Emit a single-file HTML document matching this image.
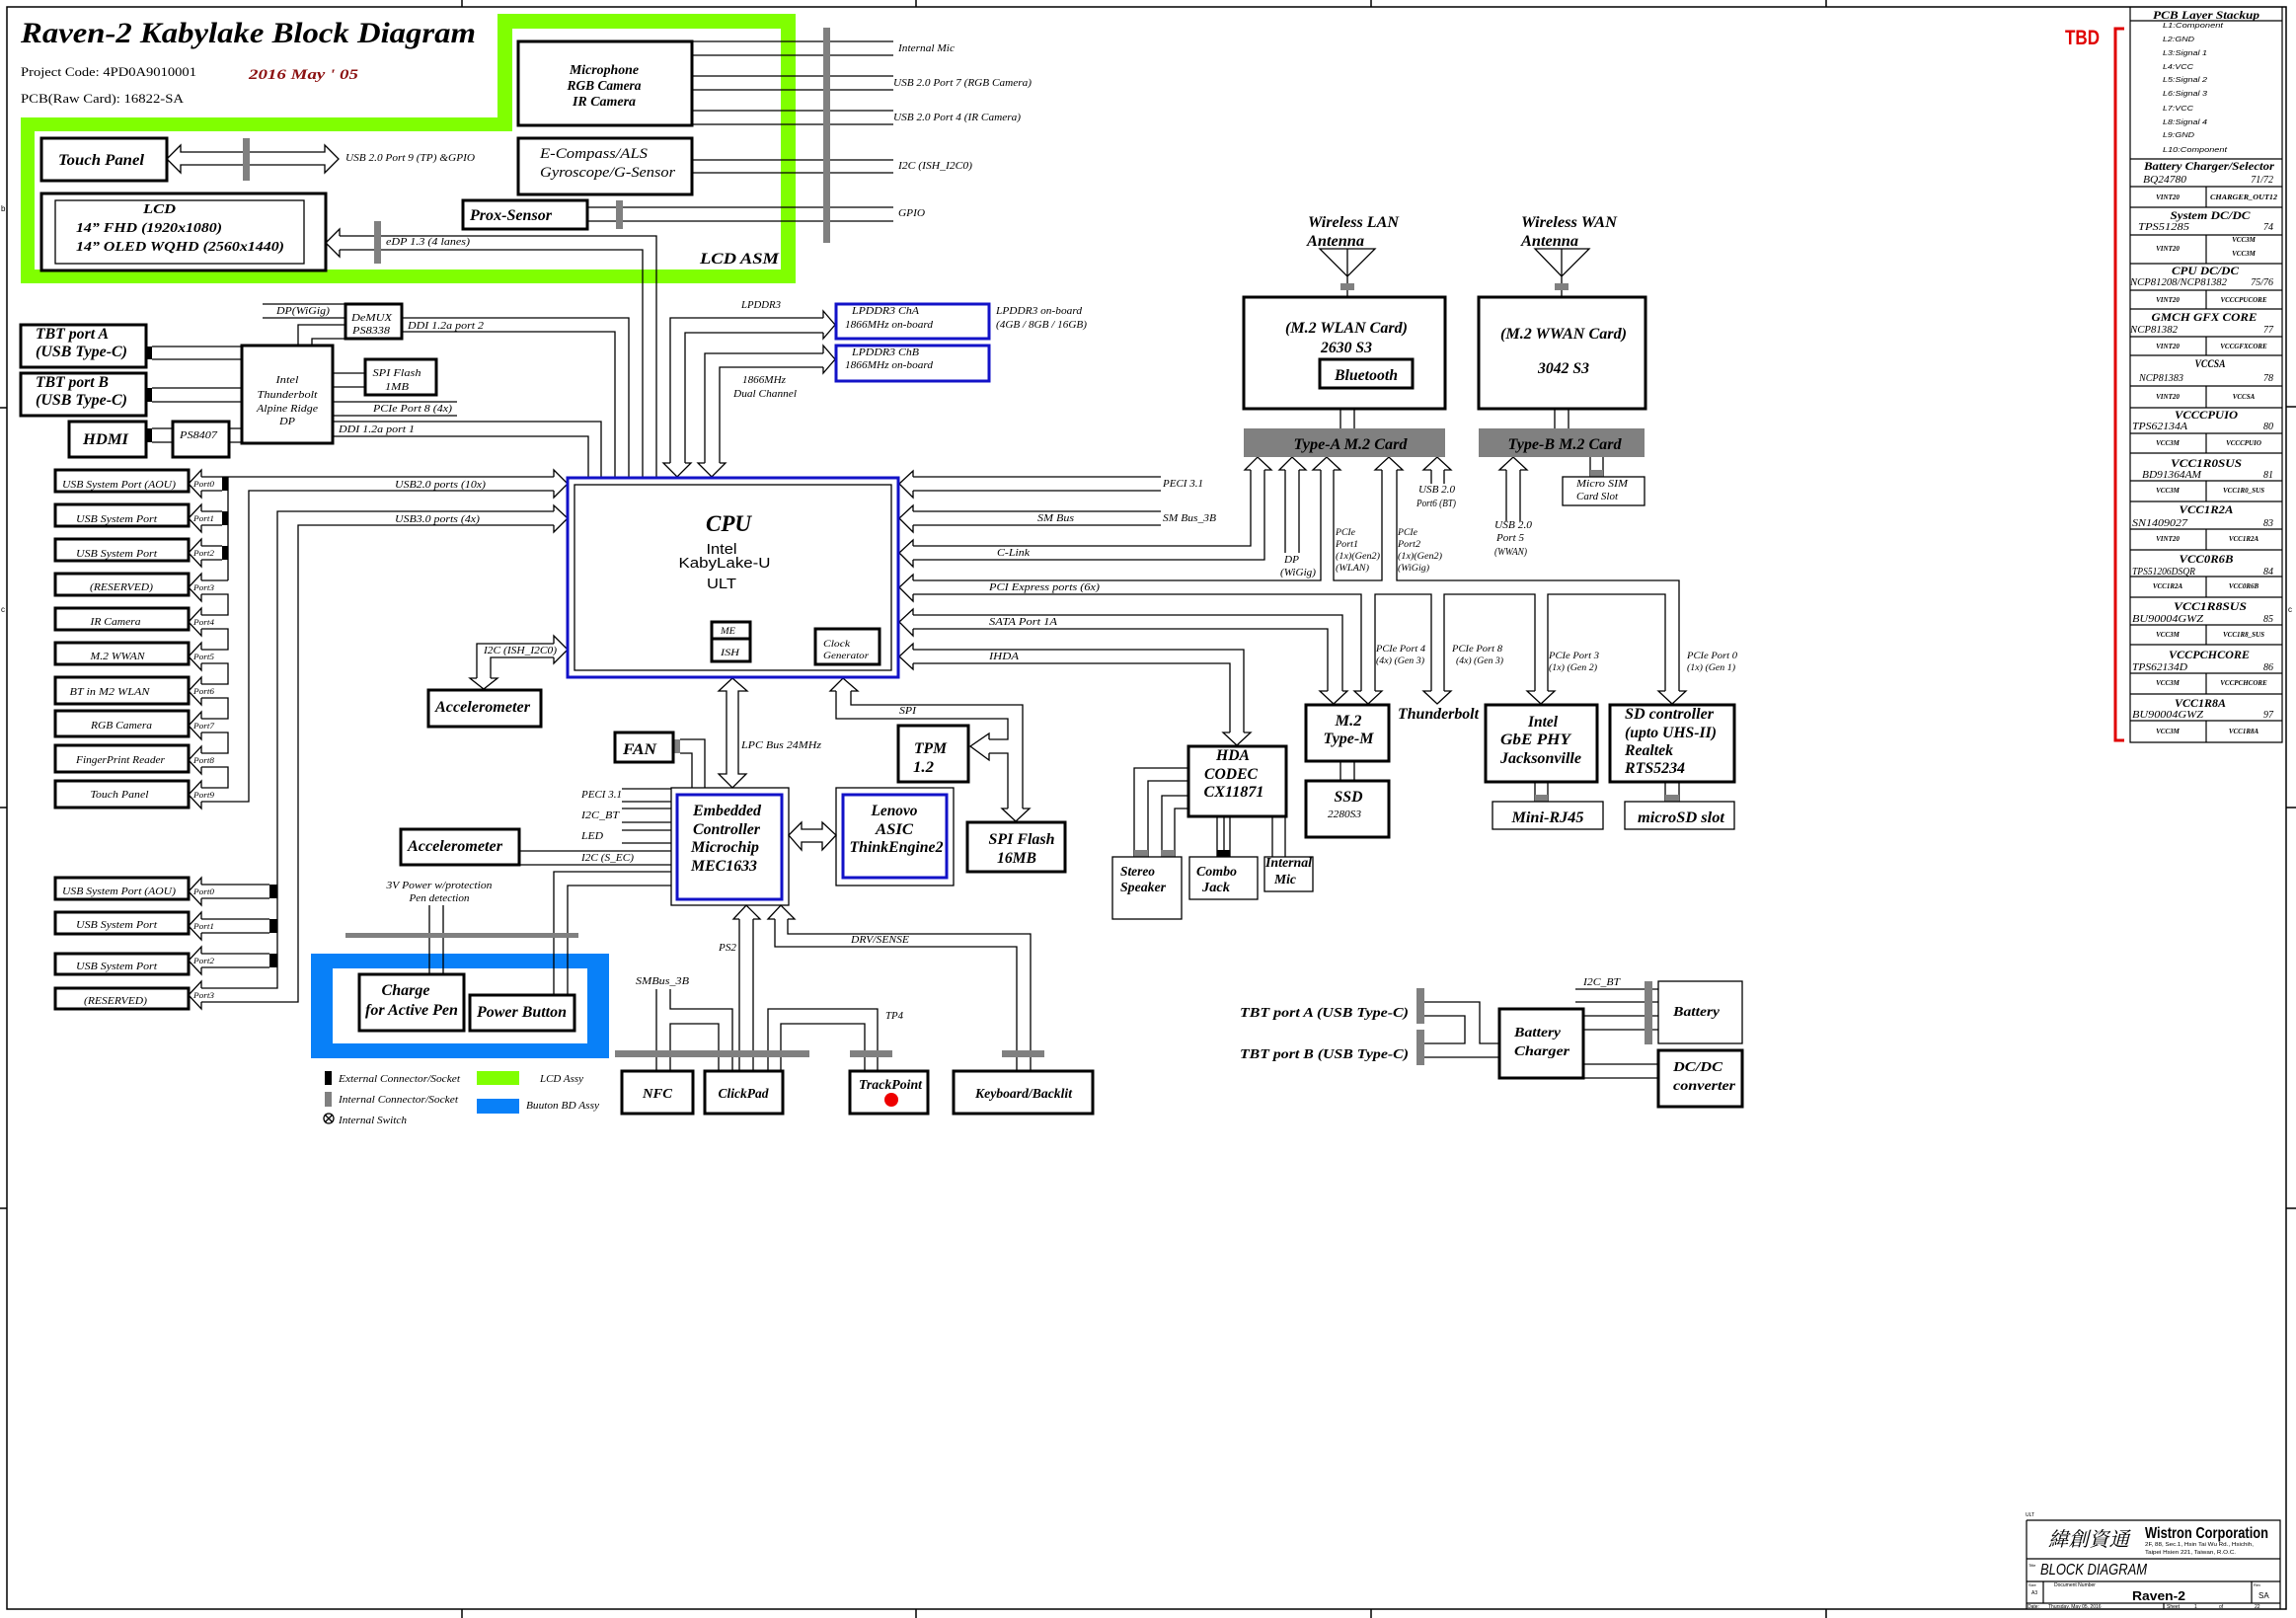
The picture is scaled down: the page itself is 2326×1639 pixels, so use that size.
<!DOCTYPE html>
<html><head><meta charset="utf-8"><style>
html,body{margin:0;padding:0;background:#fff;}
svg{display:block;}
text{font-family:"Liberation Serif","Noto Serif CJK SC",serif;font-style:italic;fill:#000;}
.s{font-size:11px;}
.xs{font-size:8px;}
.b{font-size:16px;font-weight:bold;}
.bm{font-size:14px;font-weight:bold;}
.sans text, text.sans{font-family:"Liberation Sans",sans-serif;}
.up text, text.up{font-style:normal;}
</style></head><body>
<svg xmlns="http://www.w3.org/2000/svg" width="2326" height="1639" viewBox="0 0 2326 1639">
<rect width="2326" height="1639" fill="#fff"/>

<!-- frame -->
<g stroke="#000" stroke-width="1.5" fill="none">
<rect x="7" y="7" width="2309" height="1623"/>
<path d="M468 0V7M928 0V7M1389 0V7M1850 0V7M468 1630V1639M928 1630V1639M1389 1630V1639M1850 1630V1639M0 413H7M0 818H7M0 1224H7M2316 412H2326M2316 818H2326M2316 1224H2326"/>
</g>
<text x="1" y="214" class="xs sans up">b</text>
<text x="1" y="620" class="xs sans up">c</text>
<text x="2318" y="620" class="xs sans up">c</text>

<!-- title -->
<text x="21" y="43" style="font-size:30px;font-weight:bold" textLength="461" lengthAdjust="spacingAndGlyphs">Raven-2 Kabylake Block Diagram</text>
<text x="21" y="77" class="up" style="font-size:13px" textLength="178" lengthAdjust="spacingAndGlyphs">Project Code: 4PD0A9010001</text>
<text x="252" y="80" style="font-size:15px;font-weight:bold;fill:#8B1010" textLength="111" lengthAdjust="spacingAndGlyphs">2016 May ' 05</text>
<text x="21" y="104" class="up" style="font-size:13px" textLength="165" lengthAdjust="spacingAndGlyphs">PCB(Raw Card): 16822-SA</text>

<!-- green LCD ASM -->
<path d="M21 119H504V14H806V287H21ZM35 133V273H791V29H519V133Z" fill="#80FF00" fill-rule="evenodd"/>
<text x="709" y="267" class="b" textLength="80" lengthAdjust="spacingAndGlyphs">LCD  ASM</text>

<!-- blue button BD -->
<path d="M315 966H617V1072H315ZM337 981V1057H595V981Z" fill="#0880F8" fill-rule="evenodd"/>

<!-- thin lines -->
<g fill="none" stroke="#000" stroke-width="1.3">
<path d="M701 42H905M701 56H905M701 77H905M701 91H905M701 112H905M701 126H905M701 162H905M701 175H905M595 210H905M595 224H905"/>
<polygon points="169,161 183,147 183,154 329,154 329,147 343,161 329,175 329,167 183,167 183,175" fill="#fff"/>
<polyline points="344,239 344,232 330,246 344,260 344,253"/>
<path d="M344 239H665V483M344 253H651V483"/>
<!-- TB section -->
<path d="M266 308H350M266 322H350M302 350V329H350M316 350V343H350M407 322H637V483M407 336H623V483"/>
<path d="M154 351H245M154 364H245M154 393H245M154 407H245M154 434H175M154 448H175M232 434H245M232 448H245"/>
<path d="M337 378H370M337 392H370M337 407H463M337 421H463M337 427H609V483M337 442H596V483"/>
<!-- LPDDR -->
<polyline points="834,322 834,315 846,329 834,343 834,337"/>
<polyline points="834,358 834,350 846,364 834,378 834,372"/>
<path d="M834 322H679V469M834 337H694V469M834 358H714V469M834 372H729V469"/>
<polyline points="679,469 672,469 686,483 700,469 694,469"/>
<polyline points="714,469 707,469 721,483 735,469 729,469"/>
<!-- USB group 1 -->
<polyline points="561,483 561,476 575,490 561,504 561,497"/>
<path d="M204 483H561M561 497H252V812H204M231 483V588"/>
<path d="M204 497H225M204 518H225M204 532H225M204 553H225M204 567H225M204 588H231M204 602H231V623H204M204 637H231V658H204M204 672H231V693H204M204 707H231V728H204M204 742H231V763H204M204 777H231V798H204"/>
<polyline points="204,483 204,476 191,490 204,504 204,497"/>
<polyline points="204,518 204,511 191,525 204,539 204,532"/>
<polyline points="204,553 204,546 191,560 204,574 204,567"/>
<polyline points="204,588 204,581 191,595 204,609 204,602"/>
<polyline points="204,623 204,616 191,630 204,644 204,637"/>
<polyline points="204,658 204,651 191,665 204,679 204,672"/>
<polyline points="204,693 204,686 191,700 204,714 204,707"/>
<polyline points="204,728 204,721 191,735 204,749 204,742"/>
<polyline points="204,763 204,756 191,770 204,784 204,777"/>
<polyline points="204,798 204,791 191,805 204,819 204,812"/>
<!-- USB group 2 -->
<polyline points="561,518 561,512 575,525 561,539 561,532"/>
<path d="M561 518H281V1001H204M561 532H302V1015H204"/>
<path d="M204 896H273M204 910H273M204 931H273M204 945H273M204 966H273M204 980H273"/>
<polyline points="204,896 204,889 191,903 204,917 204,910"/>
<polyline points="204,931 204,924 191,938 204,952 204,945"/>
<polyline points="204,966 204,959 191,973 204,987 204,980"/>
<polyline points="204,1001 204,994 191,1008 204,1022 204,1015"/>
<!-- I2C ISH -->
<polyline points="561,652 561,644 575,658 561,672 561,666"/>
<path d="M561 652H483V687M561 666H497V687"/>
<polyline points="483,687 476,687 490,698 504,687 497,687"/>
<!-- right side into CPU -->
<polyline points="925,483 925,477 911,490 925,504 925,497"/>
<polyline points="925,518 925,512 911,525 925,539 925,532"/>
<polyline points="925,553 925,547 911,560 925,574 925,567"/>
<polyline points="925,588 925,582 911,595 925,609 925,602"/>
<polyline points="925,623 925,617 911,630 925,644 925,637"/>
<polyline points="925,658 925,652 911,665 925,678 925,672"/>
<path d="M925 483H1176M925 497H1176M925 518H1176M925 532H1176M925 553H1267V476M925 567H1281V476"/>
<path d="M925 588H1338V476M1351 476V588H1400V476M1415 476V588H1701V700"/>
<path d="M925 602H1379V700M1393 700V602H1450V700M1463 700V602H1555V700M1568 700V602H1687V700"/>
<path d="M925 623H1360V700M925 637H1345V700M925 658H1260V742M925 672H1246V742"/>
<path d="M1302 476V560M1316 476V560M1450 476V490M1463 476V490M1526 476V528M1540 476V528"/>
<polyline points="1267,476 1261,476 1274,463 1288,476 1281,476"/>
<polyline points="1302,476 1296,476 1309,463 1323,476 1316,476"/>
<polyline points="1338,476 1330,476 1344,463 1358,476 1351,476"/>
<polyline points="1400,476 1393,476 1407,463 1421,476 1415,476"/>
<polyline points="1450,476 1442,476 1456,463 1470,476 1463,476"/>
<polyline points="1526,476 1519,476 1533,463 1547,476 1540,476"/>
<polyline points="1345,700 1337,700 1351,713 1365,700 1360,700"/>
<polyline points="1379,700 1372,700 1386,713 1400,700 1393,700"/>
<polyline points="1450,700 1442,700 1456,713 1470,700 1463,700"/>
<polyline points="1555,700 1547,700 1561,713 1575,700 1568,700"/>
<polyline points="1687,700 1680,700 1694,713 1708,700 1701,700"/>
<polyline points="1246,742 1239,742 1253,755 1267,742 1260,742"/>
<!-- antennas -->
<path d="M1337 252H1393L1365 280ZM1365 252V301M1358 414V434M1372 414V434"/>
<path d="M1555 252H1610L1582 280ZM1582 252V301M1575 414V434M1589 414V434M1611 463V483M1624 463V483"/>
<!-- HDA -->
<path d="M1204 778H1149V868M1204 791H1163V868M1204 806H1177V868M1204 819H1190V868M1233 827V868M1240 827V868M1246 827V868M1289 827V868M1302 827V868"/>
<path d="M1358 771V791M1372 771V791M1555 792V812M1568 792V812M1687 792V812M1701 792V812"/>
<!-- LPC / SPI -->
<polygon points="742,687 757,700 748,700 748,784 756,784 742,798 728,784 736,784 736,700 728,700" fill="#fff"/>
<polyline points="847,700 841,700 854,687 869,700 862,700"/>
<path d="M847 700V728H1021V749H1002M862 700V714H1036V819M1002 763H1021V819"/>
<polyline points="1021,819 1015,819 1029,832 1043,819 1036,819"/>
<polyline points="1002,749 1002,743 983,756 1002,770 1002,763"/>
<polygon points="799,846 812,833 812,840 833,840 833,833 847,846 833,861 833,853 812,853 812,861" fill="#fff"/>
<!-- EC side -->
<path d="M630 799H680M630 812H680M630 819H680M630 833H680M630 841H680M630 854H680M526 862H680M526 876H680M689 749H714V798M689 763H701V798"/>
<path d="M561 1008V883H680M575 1008V897H680M435 917V987M449 917V987"/>
<!-- bottom -->
<polyline points="749,931 743,931 756,917 770,931 763,931"/>
<polyline points="785,931 778,931 791,917 805,931 798,931"/>
<path d="M749 931V1085M763 931V1085M785 931V959H1030V1085M798 931V946H1044V1085"/>
<path d="M665 1002V1085M679 1002V1022H742V1085M679 1085V1037H728V1085M778 1085V1022H889V1085M791 1085V1037H876V1085"/>
<!-- battery -->
<path d="M1443 1015H1499V1057H1519M1443 1029H1484V1057H1443M1443 1071H1519M1596 1002H1680M1596 1015H1680M1604 1029H1680M1604 1043H1680M1604 1078H1680M1604 1092H1680"/>
</g>

<!-- gray connectors/bars -->
<g fill="#808080">
<rect x="834" y="28" width="7" height="218"/>
<rect x="624" y="203" width="7" height="29"/>
<rect x="246" y="140" width="7" height="43"/>
<rect x="379" y="224" width="7" height="43"/>
<rect x="682" y="749" width="7" height="14"/>
<rect x="350" y="945" width="236" height="5"/>
<rect x="623" y="1064" width="197" height="7"/>
<rect x="861" y="1064" width="43" height="7"/>
<rect x="1015" y="1064" width="43" height="7"/>
<rect x="1149" y="861" width="14" height="7"/>
<rect x="1176" y="861" width="14" height="7"/>
<rect x="1358" y="287" width="14" height="7"/>
<rect x="1575" y="287" width="14" height="7"/>
<rect x="1611" y="476" width="13" height="7"/>
<rect x="1555" y="805" width="13" height="7"/>
<rect x="1687" y="805" width="14" height="7"/>
<rect x="1260" y="434" width="204" height="29"/>
<rect x="1498" y="434" width="168" height="29"/>
<rect x="1435" y="1001" width="8" height="36"/>
<rect x="1435" y="1043" width="8" height="36"/>
<rect x="1666" y="994" width="8" height="64"/>
<rect x="329" y="1106" width="7" height="15"/>
</g>
<!-- black connectors -->
<g fill="#000">
<rect x="148" y="351" width="6" height="13"/>
<rect x="148" y="393" width="6" height="14"/>
<rect x="148" y="434" width="6" height="14"/>
<rect x="225" y="483" width="6" height="14"/>
<rect x="225" y="518" width="6" height="14"/>
<rect x="225" y="553" width="6" height="14"/>
<rect x="273" y="896" width="8" height="14"/>
<rect x="273" y="931" width="8" height="14"/>
<rect x="273" y="966" width="8" height="14"/>
<rect x="1233" y="861" width="13" height="7"/>
<rect x="329" y="1085" width="7" height="14"/>
</g>

<!-- thick boxes -->
<g fill="none" stroke="#000" stroke-width="3">
<rect x="525" y="42" width="176" height="85"/>
<rect x="525" y="140" width="176" height="57"/>
<rect x="469" y="203" width="126" height="29"/>
<rect x="42" y="140" width="127" height="43"/>
<rect x="42" y="196" width="288" height="78"/>
<rect x="350" y="308" width="57" height="35"/>
<rect x="245" y="350" width="92" height="99"/>
<rect x="21" y="329" width="127" height="43"/>
<rect x="21" y="378" width="127" height="43"/>
<rect x="70" y="427" width="78" height="36"/>
<rect x="175" y="427" width="57" height="36"/>
<rect x="370" y="364" width="72" height="36"/>
<rect x="56" y="476" width="135" height="22"/>
<rect x="56" y="511" width="135" height="22"/>
<rect x="56" y="546" width="135" height="22"/>
<rect x="56" y="581" width="135" height="22"/>
<rect x="56" y="616" width="135" height="22"/>
<rect x="56" y="651" width="135" height="22"/>
<rect x="56" y="686" width="135" height="27"/>
<rect x="56" y="720" width="135" height="26"/>
<rect x="56" y="755" width="135" height="27"/>
<rect x="56" y="791" width="135" height="27"/>
<rect x="56" y="889" width="135" height="22"/>
<rect x="56" y="924" width="135" height="22"/>
<rect x="56" y="966" width="135" height="21"/>
<rect x="56" y="1001" width="135" height="21"/>
<rect x="434" y="699" width="114" height="37"/>
<rect x="406" y="840" width="120" height="36"/>
<rect x="721" y="630" width="39" height="40"/>
<path d="M721 647H760"/>
<rect x="826" y="637" width="65" height="36"/>
<rect x="623" y="742" width="59" height="30"/>
<rect x="910" y="735" width="71" height="57"/>
<rect x="980" y="833" width="99" height="50"/>
<rect x="364" y="987" width="106" height="57"/>
<rect x="476" y="1008" width="106" height="36"/>
<rect x="630" y="1085" width="72" height="43"/>
<rect x="714" y="1085" width="79" height="43"/>
<rect x="861" y="1085" width="79" height="43"/>
<rect x="966" y="1085" width="141" height="43"/>
<rect x="1260" y="301" width="204" height="113"/>
<rect x="1337" y="364" width="94" height="29"/>
<rect x="1498" y="301" width="169" height="113"/>
<rect x="1204" y="756" width="99" height="71"/>
<rect x="1323" y="714" width="84" height="57"/>
<rect x="1323" y="791" width="84" height="57"/>
<rect x="1505" y="714" width="113" height="78"/>
<rect x="1631" y="714" width="126" height="78"/>
<rect x="1519" y="1022" width="85" height="70"/>
<rect x="1680" y="1064" width="85" height="57"/>
</g>
<!-- thin boxes -->
<g fill="none" stroke="#000" stroke-width="1.3">
<rect x="56" y="203" width="252" height="64"/>
<rect x="582" y="491" width="321" height="188"/>
<rect x="680" y="798" width="119" height="119"/>
<rect x="847" y="798" width="119" height="99"/>
<rect x="1583" y="483" width="83" height="29"/>
<rect x="1512" y="812" width="112" height="28"/>
<rect x="1646" y="812" width="111" height="28"/>
<rect x="1127" y="868" width="70" height="63"/>
<rect x="1205" y="868" width="69" height="43"/>
<rect x="1281" y="868" width="49" height="35"/>
<rect x="1680" y="994" width="85" height="63"/>
<circle cx="333" cy="1133" r="5"/>
<path d="M329 1129L337 1137M337 1129L329 1137"/>
</g>
<!-- blue boxes -->
<g fill="none" stroke="#1212C8" stroke-width="3">
<rect x="575" y="484" width="335" height="202"/>
<rect x="847" y="308" width="155" height="35"/>
<rect x="847" y="350" width="155" height="36"/>
<rect x="686" y="805" width="106" height="106"/>
<rect x="854" y="805" width="105" height="84"/>
</g>
<circle cx="903" cy="1114" r="7" fill="#EE0000"/>
<rect x="483" y="1085" width="43" height="14" fill="#80FF00"/>
<rect x="483" y="1113" width="43" height="15" fill="#0880F8"/>

<!-- LCD area texts -->
<g class="bm">
<text x="612" y="75" text-anchor="middle" textLength="70" lengthAdjust="spacingAndGlyphs">Microphone</text>
<text x="612" y="91" text-anchor="middle" textLength="75" lengthAdjust="spacingAndGlyphs">RGB Camera</text>
<text x="612" y="107" text-anchor="middle" textLength="64" lengthAdjust="spacingAndGlyphs">IR Camera</text>
<text x="145" y="216" textLength="33" lengthAdjust="spacingAndGlyphs">LCD</text>
<text x="77" y="235" textLength="148" lengthAdjust="spacingAndGlyphs">14” FHD (1920x1080)</text>
<text x="77" y="254" textLength="211" lengthAdjust="spacingAndGlyphs">14” OLED WQHD (2560x1440)</text>
</g>
<g class="b">
<text x="59" y="167" textLength="87" lengthAdjust="spacingAndGlyphs">Touch Panel</text>
<text x="476" y="223" textLength="83" lengthAdjust="spacingAndGlyphs">Prox-Sensor</text>
</g>
<text x="547" y="160" style="font-size:15px" textLength="109" lengthAdjust="spacingAndGlyphs">E-Compass/ALS</text>
<text x="547" y="179" style="font-size:15px" textLength="137" lengthAdjust="spacingAndGlyphs">Gyroscope/G-Sensor</text>
<g class="s">
<text x="910" y="52" textLength="57" lengthAdjust="spacingAndGlyphs">Internal Mic</text>
<text x="905" y="87" textLength="140" lengthAdjust="spacingAndGlyphs">USB 2.0 Port 7 (RGB Camera)</text>
<text x="905" y="122" textLength="129" lengthAdjust="spacingAndGlyphs">USB 2.0 Port 4 (IR Camera)</text>
<text x="910" y="171" textLength="75" lengthAdjust="spacingAndGlyphs">I2C (ISH_I2C0)</text>
<text x="910" y="219" textLength="27" lengthAdjust="spacingAndGlyphs">GPIO</text>
<text x="350" y="163" textLength="131" lengthAdjust="spacingAndGlyphs">USB 2.0 Port 9 (TP) &amp;GPIO</text>
<text x="391" y="248" textLength="85" lengthAdjust="spacingAndGlyphs">eDP 1.3 (4 lanes)</text>
<!-- TB -->
<text x="280" y="318" textLength="54" lengthAdjust="spacingAndGlyphs">DP(WiGig)</text>
<text x="356" y="325" textLength="41" lengthAdjust="spacingAndGlyphs">DeMUX</text>
<text x="357" y="338" textLength="38" lengthAdjust="spacingAndGlyphs">PS8338</text>
<text x="413" y="333" textLength="77" lengthAdjust="spacingAndGlyphs">DDI 1.2a port 2</text>
<text x="291" y="388" text-anchor="middle" textLength="23" lengthAdjust="spacingAndGlyphs">Intel</text>
<text x="291" y="403" text-anchor="middle" textLength="61" lengthAdjust="spacingAndGlyphs">Thunderbolt</text>
<text x="291" y="417" text-anchor="middle" textLength="62" lengthAdjust="spacingAndGlyphs">Alpine Ridge</text>
<text x="291" y="430" text-anchor="middle" textLength="16" lengthAdjust="spacingAndGlyphs">DP</text>
<text x="402" y="381" text-anchor="middle" textLength="49" lengthAdjust="spacingAndGlyphs">SPI Flash</text>
<text x="402" y="395" text-anchor="middle" textLength="24" lengthAdjust="spacingAndGlyphs">1MB</text>
<text x="378" y="417" textLength="80" lengthAdjust="spacingAndGlyphs">PCIe Port 8 (4x)</text>
<text x="343" y="438" textLength="77" lengthAdjust="spacingAndGlyphs">DDI 1.2a port 1</text>
<text x="182" y="444" textLength="38" lengthAdjust="spacingAndGlyphs">PS8407</text>
<!-- USB -->
<text x="400" y="494" textLength="92" lengthAdjust="spacingAndGlyphs">USB2.0 ports (10x)</text>
<text x="400" y="529" textLength="86" lengthAdjust="spacingAndGlyphs">USB3.0 ports (4x)</text>
<text x="63" y="494" textLength="115" lengthAdjust="spacingAndGlyphs">USB  System Port (AOU)</text>
<text x="77" y="529" textLength="82" lengthAdjust="spacingAndGlyphs">USB  System Port</text>
<text x="77" y="564" textLength="82" lengthAdjust="spacingAndGlyphs">USB  System Port</text>
<text x="123" y="598" text-anchor="middle" textLength="64" lengthAdjust="spacingAndGlyphs">(RESERVED)</text>
<text x="117" y="633" text-anchor="middle" textLength="51" lengthAdjust="spacingAndGlyphs">IR Camera</text>
<text x="119" y="668" text-anchor="middle" textLength="55" lengthAdjust="spacingAndGlyphs">M.2 WWAN</text>
<text x="111" y="704" text-anchor="middle" textLength="81" lengthAdjust="spacingAndGlyphs">BT in M2 WLAN</text>
<text x="123" y="738" text-anchor="middle" textLength="62" lengthAdjust="spacingAndGlyphs">RGB Camera</text>
<text x="122" y="773" text-anchor="middle" textLength="90" lengthAdjust="spacingAndGlyphs">FingerPrint Reader</text>
<text x="121" y="808" text-anchor="middle" textLength="59" lengthAdjust="spacingAndGlyphs">Touch Panel</text>
<text x="63" y="906" textLength="115" lengthAdjust="spacingAndGlyphs">USB  System Port (AOU)</text>
<text x="77" y="940" textLength="82" lengthAdjust="spacingAndGlyphs">USB  System Port</text>
<text x="77" y="982" textLength="82" lengthAdjust="spacingAndGlyphs">USB  System Port</text>
<text x="117" y="1017" text-anchor="middle" textLength="64" lengthAdjust="spacingAndGlyphs">(RESERVED)</text>
</g>
<g class="xs">
<text x="196" y="493" textLength="21" lengthAdjust="spacingAndGlyphs">Port0</text>
<text x="196" y="528" textLength="21" lengthAdjust="spacingAndGlyphs">Port1</text>
<text x="196" y="563" textLength="21" lengthAdjust="spacingAndGlyphs">Port2</text>
<text x="196" y="598" textLength="21" lengthAdjust="spacingAndGlyphs">Port3</text>
<text x="196" y="633" textLength="21" lengthAdjust="spacingAndGlyphs">Port4</text>
<text x="196" y="668" textLength="21" lengthAdjust="spacingAndGlyphs">Port5</text>
<text x="196" y="703" textLength="21" lengthAdjust="spacingAndGlyphs">Port6</text>
<text x="196" y="738" textLength="21" lengthAdjust="spacingAndGlyphs">Port7</text>
<text x="196" y="773" textLength="21" lengthAdjust="spacingAndGlyphs">Port8</text>
<text x="196" y="808" textLength="21" lengthAdjust="spacingAndGlyphs">Port9</text>
<text x="196" y="906" textLength="21" lengthAdjust="spacingAndGlyphs">Port0</text>
<text x="196" y="941" textLength="21" lengthAdjust="spacingAndGlyphs">Port1</text>
<text x="196" y="976" textLength="21" lengthAdjust="spacingAndGlyphs">Port2</text>
<text x="196" y="1011" textLength="21" lengthAdjust="spacingAndGlyphs">Port3</text>
</g>
<!-- TBT/HDMI labels -->
<g class="b">
<text x="36" y="343" textLength="74" lengthAdjust="spacingAndGlyphs">TBT port A</text>
<text x="36" y="361" textLength="93" lengthAdjust="spacingAndGlyphs">(USB Type-C)</text>
<text x="36" y="392" textLength="74" lengthAdjust="spacingAndGlyphs">TBT port B</text>
<text x="36" y="410" textLength="93" lengthAdjust="spacingAndGlyphs">(USB Type-C)</text>
<text x="107" y="450" text-anchor="middle" textLength="46" lengthAdjust="spacingAndGlyphs">HDMI</text>
<text x="441" y="721" textLength="96" lengthAdjust="spacingAndGlyphs">Accelerometer</text>
<text x="413" y="862" textLength="96" lengthAdjust="spacingAndGlyphs">Accelerometer</text>
<text x="411" y="1008" text-anchor="middle" textLength="49" lengthAdjust="spacingAndGlyphs">Charge</text>
<text x="370" y="1028" textLength="94" lengthAdjust="spacingAndGlyphs">for Active Pen</text>
<text x="483" y="1030" textLength="91" lengthAdjust="spacingAndGlyphs">Power Button</text>
</g>
<g class="s">
<text x="490" y="662" textLength="74" lengthAdjust="spacingAndGlyphs">I2C (ISH_I2C0)</text>
<text x="445" y="900" text-anchor="middle" textLength="107" lengthAdjust="spacingAndGlyphs">3V Power w/protection</text>
<text x="445" y="913" text-anchor="middle" textLength="61" lengthAdjust="spacingAndGlyphs">Pen detection</text>
<text x="343" y="1096" textLength="123" lengthAdjust="spacingAndGlyphs">External Connector/Socket</text>
<text x="343" y="1117" textLength="121" lengthAdjust="spacingAndGlyphs">Internal Connector/Socket</text>
<text x="343" y="1138" textLength="69" lengthAdjust="spacingAndGlyphs">Internal Switch</text>
<text x="547" y="1096" textLength="44" lengthAdjust="spacingAndGlyphs">LCD Assy</text>
<text x="533" y="1123" textLength="74" lengthAdjust="spacingAndGlyphs">Buuton BD Assy</text>
<!-- LPDDR -->
<text x="751" y="312" textLength="40" lengthAdjust="spacingAndGlyphs">LPDDR3</text>
<text x="752" y="388" textLength="44" lengthAdjust="spacingAndGlyphs">1866MHz</text>
<text x="743" y="402" textLength="64" lengthAdjust="spacingAndGlyphs">Dual Channel</text>
<text x="863" y="318" textLength="68" lengthAdjust="spacingAndGlyphs">LPDDR3  ChA</text>
<text x="856" y="332" textLength="89" lengthAdjust="spacingAndGlyphs">1866MHz on-board</text>
<text x="863" y="360" textLength="68" lengthAdjust="spacingAndGlyphs">LPDDR3  ChB</text>
<text x="856" y="373" textLength="89" lengthAdjust="spacingAndGlyphs">1866MHz on-board</text>
<text x="1009" y="318" textLength="87" lengthAdjust="spacingAndGlyphs">LPDDR3 on-board</text>
<text x="1009" y="332" textLength="92" lengthAdjust="spacingAndGlyphs">(4GB / 8GB / 16GB)</text>
<!-- CPU right labels -->
<text x="1178" y="493" textLength="41" lengthAdjust="spacingAndGlyphs">PECI 3.1</text>
<text x="1051" y="528" textLength="37" lengthAdjust="spacingAndGlyphs">SM Bus</text>
<text x="1178" y="528" textLength="54" lengthAdjust="spacingAndGlyphs">SM Bus_3B</text>
<text x="1010" y="563" textLength="33" lengthAdjust="spacingAndGlyphs">C-Link</text>
<text x="1002" y="598" textLength="112" lengthAdjust="spacingAndGlyphs">PCI Express ports (6x)</text>
<text x="1002" y="633" textLength="69" lengthAdjust="spacingAndGlyphs">SATA Port 1A</text>
<text x="1002" y="668" textLength="30" lengthAdjust="spacingAndGlyphs">IHDA</text>
<text x="911" y="723" textLength="17" lengthAdjust="spacingAndGlyphs">SPI</text>
<text x="751" y="758" textLength="81" lengthAdjust="spacingAndGlyphs">LPC Bus 24MHz</text>
<!-- EC left -->
<text x="589" y="808" textLength="41" lengthAdjust="spacingAndGlyphs">PECI 3.1</text>
<text x="589" y="829" textLength="38" lengthAdjust="spacingAndGlyphs">I2C_BT</text>
<text x="589" y="850" textLength="22" lengthAdjust="spacingAndGlyphs">LED</text>
<text x="589" y="872" textLength="53" lengthAdjust="spacingAndGlyphs">I2C (S_EC)</text>
<text x="728" y="963" textLength="18" lengthAdjust="spacingAndGlyphs">PS2</text>
<text x="862" y="955" textLength="59" lengthAdjust="spacingAndGlyphs">DRV/SENSE</text>
<text x="644" y="997" textLength="54" lengthAdjust="spacingAndGlyphs">SMBus_3B</text>
<text x="897" y="1032" textLength="18" lengthAdjust="spacingAndGlyphs">TP4</text>
</g>
<!-- CPU -->
<text x="738" y="538" text-anchor="middle" style="font-size:23px;font-weight:bold" textLength="46" lengthAdjust="spacingAndGlyphs">CPU</text>
<g class="sans up" style="font-size:15px">
<text x="731" y="561" text-anchor="middle" textLength="31" lengthAdjust="spacingAndGlyphs">Intel</text>
<text x="734" y="575" text-anchor="middle" textLength="93" lengthAdjust="spacingAndGlyphs">KabyLake-U</text>
<text x="731" y="596" text-anchor="middle" textLength="30" lengthAdjust="spacingAndGlyphs">ULT</text>
</g>
<g style="font-size:9px">
<text x="730" y="642" textLength="15" lengthAdjust="spacingAndGlyphs">ME</text>
<text x="730" y="664" textLength="19" lengthAdjust="spacingAndGlyphs">ISH</text>
<text x="834" y="655" textLength="27" lengthAdjust="spacingAndGlyphs">Clock</text>
<text x="834" y="667" textLength="46" lengthAdjust="spacingAndGlyphs">Generator</text>
</g>
<!-- EC/ASIC/TPM etc -->
<g class="b">
<text x="631" y="764" textLength="34" lengthAdjust="spacingAndGlyphs">FAN</text>
<text x="702" y="826" textLength="69" lengthAdjust="spacingAndGlyphs">Embedded</text>
<text x="702" y="845" textLength="68" lengthAdjust="spacingAndGlyphs">Controller</text>
<text x="700" y="863" textLength="69" lengthAdjust="spacingAndGlyphs">Microchip</text>
<text x="700" y="882" textLength="67" lengthAdjust="spacingAndGlyphs">MEC1633</text>
<text x="906" y="826" text-anchor="middle" textLength="47" lengthAdjust="spacingAndGlyphs">Lenovo</text>
<text x="906" y="845" text-anchor="middle" textLength="38" lengthAdjust="spacingAndGlyphs">ASIC</text>
<text x="908" y="863" text-anchor="middle" textLength="95" lengthAdjust="spacingAndGlyphs">ThinkEngine2</text>
<text x="926" y="763" textLength="33" lengthAdjust="spacingAndGlyphs">TPM</text>
<text x="925" y="782" textLength="21" lengthAdjust="spacingAndGlyphs">1.2</text>
<text x="1035" y="855" text-anchor="middle" textLength="67" lengthAdjust="spacingAndGlyphs">SPI Flash</text>
<text x="1030" y="874" text-anchor="middle" textLength="40" lengthAdjust="spacingAndGlyphs">16MB</text>
</g>
<g class="bm">
<text x="666" y="1112" text-anchor="middle" textLength="30" lengthAdjust="spacingAndGlyphs">NFC</text>
<text x="753" y="1112" text-anchor="middle" textLength="51" lengthAdjust="spacingAndGlyphs">ClickPad</text>
<text x="870" y="1103" textLength="64" lengthAdjust="spacingAndGlyphs">TrackPoint</text>
<text x="1037" y="1112" text-anchor="middle" textLength="98" lengthAdjust="spacingAndGlyphs">Keyboard/Backlit</text>
</g>
<!-- right area texts -->
<g class="b">
<text x="1325" y="230" textLength="92" lengthAdjust="spacingAndGlyphs">Wireless LAN</text>
<text x="1324" y="249" textLength="58" lengthAdjust="spacingAndGlyphs">Antenna</text>
<text x="1541" y="230" textLength="97" lengthAdjust="spacingAndGlyphs">Wireless WAN</text>
<text x="1541" y="249" textLength="58" lengthAdjust="spacingAndGlyphs">Antenna</text>
<text x="1364" y="337" text-anchor="middle" textLength="124" lengthAdjust="spacingAndGlyphs">(M.2 WLAN Card)</text>
<text x="1338" y="357" textLength="52" lengthAdjust="spacingAndGlyphs">2630 S3</text>
<text x="1384" y="385" text-anchor="middle" textLength="64" lengthAdjust="spacingAndGlyphs">Bluetooth</text>
<text x="1584" y="343" text-anchor="middle" textLength="128" lengthAdjust="spacingAndGlyphs">(M.2 WWAN Card)</text>
<text x="1584" y="378" text-anchor="middle" textLength="52" lengthAdjust="spacingAndGlyphs">3042 S3</text>
<text x="1368" y="455" text-anchor="middle" textLength="115" lengthAdjust="spacingAndGlyphs">Type-A M.2 Card</text>
<text x="1585" y="455" text-anchor="middle" textLength="115" lengthAdjust="spacingAndGlyphs">Type-B M.2 Card</text>
<text x="1416" y="728" textLength="82" lengthAdjust="spacingAndGlyphs">Thunderbolt</text>
<text x="1249" y="770" text-anchor="middle" textLength="34" lengthAdjust="spacingAndGlyphs">HDA</text>
<text x="1247" y="789" text-anchor="middle" textLength="54" lengthAdjust="spacingAndGlyphs">CODEC</text>
<text x="1250" y="807" text-anchor="middle" textLength="61" lengthAdjust="spacingAndGlyphs">CX11871</text>
<text x="1366" y="735" text-anchor="middle" textLength="27" lengthAdjust="spacingAndGlyphs">M.2</text>
<text x="1366" y="753" text-anchor="middle" textLength="51" lengthAdjust="spacingAndGlyphs">Type-M</text>
<text x="1366" y="812" text-anchor="middle" textLength="29" lengthAdjust="spacingAndGlyphs">SSD</text>
<text x="1563" y="736" text-anchor="middle" textLength="30" lengthAdjust="spacingAndGlyphs">Intel</text>
<text x="1520" y="754" textLength="71" lengthAdjust="spacingAndGlyphs">GbE  PHY</text>
<text x="1520" y="773" textLength="82" lengthAdjust="spacingAndGlyphs">Jacksonville</text>
<text x="1646" y="728" textLength="90" lengthAdjust="spacingAndGlyphs">SD controller</text>
<text x="1646" y="747" textLength="93" lengthAdjust="spacingAndGlyphs">(upto UHS-II)</text>
<text x="1646" y="765" textLength="49" lengthAdjust="spacingAndGlyphs">Realtek</text>
<text x="1646" y="783" textLength="61" lengthAdjust="spacingAndGlyphs">RTS5234</text>
<text x="1568" y="833" text-anchor="middle" textLength="73" lengthAdjust="spacingAndGlyphs">Mini-RJ45</text>
<text x="1703" y="833" text-anchor="middle" textLength="88" lengthAdjust="spacingAndGlyphs">microSD slot</text>
</g>
<g class="bm">
<text x="1135" y="887" textLength="35" lengthAdjust="spacingAndGlyphs">Stereo</text>
<text x="1135" y="903" textLength="46" lengthAdjust="spacingAndGlyphs">Speaker</text>
<text x="1212" y="887" textLength="41" lengthAdjust="spacingAndGlyphs">Combo</text>
<text x="1218" y="903" textLength="28" lengthAdjust="spacingAndGlyphs">Jack</text>
<text x="1282" y="878" textLength="47" lengthAdjust="spacingAndGlyphs">Internal</text>
<text x="1291" y="895" textLength="22" lengthAdjust="spacingAndGlyphs">Mic</text>
<text x="1534" y="1050" textLength="47" lengthAdjust="spacingAndGlyphs">Battery</text>
<text x="1534" y="1069" textLength="56" lengthAdjust="spacingAndGlyphs">Charger</text>
<text x="1695" y="1029" textLength="47" lengthAdjust="spacingAndGlyphs">Battery</text>
<text x="1695" y="1085" textLength="50" lengthAdjust="spacingAndGlyphs">DC/DC</text>
<text x="1695" y="1104" textLength="63" lengthAdjust="spacingAndGlyphs">converter</text>
<text x="1256" y="1030" textLength="171" lengthAdjust="spacingAndGlyphs">TBT port A (USB Type-C)</text>
<text x="1256" y="1072" textLength="171" lengthAdjust="spacingAndGlyphs">TBT port B (USB Type-C)</text>
</g>
<g class="s">
<text x="1597" y="493" textLength="52" lengthAdjust="spacingAndGlyphs">Micro SIM</text>
<text x="1597" y="506" textLength="42" lengthAdjust="spacingAndGlyphs">Card Slot</text>
<text x="1437" y="499" textLength="37" lengthAdjust="spacingAndGlyphs">USB 2.0</text>
<text x="1435" y="513" textLength="40" lengthAdjust="spacingAndGlyphs">Port6 (BT)</text>
<text x="1514" y="535" textLength="38" lengthAdjust="spacingAndGlyphs">USB 2.0</text>
<text x="1516" y="548" textLength="28" lengthAdjust="spacingAndGlyphs">Port 5</text>
<text x="1514" y="562" textLength="33" lengthAdjust="spacingAndGlyphs">(WWAN)</text>
<text x="1301" y="570" textLength="15" lengthAdjust="spacingAndGlyphs">DP</text>
<text x="1297" y="583" textLength="36" lengthAdjust="spacingAndGlyphs">(WiGig)</text>
<text x="1604" y="998" textLength="37" lengthAdjust="spacingAndGlyphs">I2C_BT</text>
<text x="1345" y="828" textLength="34" lengthAdjust="spacingAndGlyphs">2280S3</text>
</g>
<g style="font-size:9px">
<text x="1353" y="542" textLength="20" lengthAdjust="spacingAndGlyphs">PCIe</text>
<text x="1353" y="554" textLength="23" lengthAdjust="spacingAndGlyphs">Port1</text>
<text x="1353" y="566" textLength="45" lengthAdjust="spacingAndGlyphs">(1x)(Gen2)</text>
<text x="1353" y="578" textLength="34" lengthAdjust="spacingAndGlyphs">(WLAN)</text>
<text x="1416" y="542" textLength="20" lengthAdjust="spacingAndGlyphs">PCIe</text>
<text x="1416" y="554" textLength="23" lengthAdjust="spacingAndGlyphs">Port2</text>
<text x="1416" y="566" textLength="45" lengthAdjust="spacingAndGlyphs">(1x)(Gen2)</text>
<text x="1416" y="578" textLength="32" lengthAdjust="spacingAndGlyphs">(WiGig)</text>
<text x="1394" y="660" textLength="50" lengthAdjust="spacingAndGlyphs">PCIe Port 4</text>
<text x="1394" y="672" textLength="49" lengthAdjust="spacingAndGlyphs">(4x) (Gen 3)</text>
<text x="1471" y="660" textLength="51" lengthAdjust="spacingAndGlyphs">PCIe Port 8</text>
<text x="1475" y="672" textLength="48" lengthAdjust="spacingAndGlyphs">(4x) (Gen 3)</text>
<text x="1569" y="667" textLength="51" lengthAdjust="spacingAndGlyphs">PCIe Port 3</text>
<text x="1569" y="679" textLength="49" lengthAdjust="spacingAndGlyphs">(1x) (Gen 2)</text>
<text x="1709" y="667" textLength="51" lengthAdjust="spacingAndGlyphs">PCIe Port 0</text>
<text x="1709" y="679" textLength="49" lengthAdjust="spacingAndGlyphs">(1x) (Gen 1)</text>
</g>

<!-- TBD + bracket -->
<text x="2092" y="45" class="sans up" style="font-size:21px;font-weight:bold;fill:#E00000" textLength="35" lengthAdjust="spacingAndGlyphs">TBD</text>
<path d="M2152 29H2143V750H2152" fill="none" stroke="#E00000" stroke-width="3"/>

<!-- right table -->
<g fill="none" stroke="#000" stroke-width="1.2">
<path d="M2158 7V752H2312V7M2158 21H2312M2158 161H2312M2158 189H2312M2158 210H2312M2158 238H2312M2158 267H2312M2158 294H2312M2158 313H2312M2158 341H2312M2158 360H2312M2158 391H2312M2158 413H2312M2158 439H2312M2158 459H2312M2158 487H2312M2158 508H2312M2158 536H2312M2158 557H2312M2158 584H2312M2158 605H2312M2158 633H2312M2158 653H2312M2158 682H2312M2158 703H2312M2158 730H2312"/>
<path d="M2235 189V210M2235 238V267M2235 294V313M2235 341V360M2235 391V413M2235 439V459M2235 487V508M2235 536V557M2235 584V605M2235 633V653M2235 682V703M2235 730V752"/>
</g>
<text x="2235" y="19" text-anchor="middle" style="font-size:12px;font-weight:bold" textLength="108" lengthAdjust="spacingAndGlyphs">PCB Layer Stackup</text>
<g class="sans" style="font-size:7.5px">
<text x="2191" y="28" textLength="61" lengthAdjust="spacingAndGlyphs">L1:Component</text>
<text x="2191" y="42" textLength="32" lengthAdjust="spacingAndGlyphs">L2:GND</text>
<text x="2191" y="56" textLength="45" lengthAdjust="spacingAndGlyphs">L3:Signal 1</text>
<text x="2191" y="70" textLength="31" lengthAdjust="spacingAndGlyphs">L4:VCC</text>
<text x="2191" y="83" textLength="45" lengthAdjust="spacingAndGlyphs">L5:Signal 2</text>
<text x="2191" y="97" textLength="45" lengthAdjust="spacingAndGlyphs">L6:Signal 3</text>
<text x="2191" y="112" textLength="31" lengthAdjust="spacingAndGlyphs">L7:VCC</text>
<text x="2191" y="126" textLength="45" lengthAdjust="spacingAndGlyphs">L8:Signal 4</text>
<text x="2191" y="139" textLength="32" lengthAdjust="spacingAndGlyphs">L9:GND</text>
<text x="2191" y="154" textLength="65" lengthAdjust="spacingAndGlyphs">L10:Component</text>
</g>
<g style="font-size:12px;font-weight:bold" text-anchor="middle">
<text x="2238" y="172" textLength="132" lengthAdjust="spacingAndGlyphs">Battery Charger/Selector</text>
<text x="2239" y="222" textLength="81" lengthAdjust="spacingAndGlyphs">System DC/DC</text>
<text x="2234" y="278" textLength="68" lengthAdjust="spacingAndGlyphs">CPU DC/DC</text>
<text x="2233" y="325" textLength="107" lengthAdjust="spacingAndGlyphs">GMCH GFX CORE</text>
<text x="2239" y="372" textLength="31" lengthAdjust="spacingAndGlyphs">VCCSA</text>
<text x="2235" y="424" textLength="64" lengthAdjust="spacingAndGlyphs">VCCCPUIO</text>
<text x="2235" y="473" textLength="72" lengthAdjust="spacingAndGlyphs">VCC1R0SUS</text>
<text x="2235" y="520" textLength="55" lengthAdjust="spacingAndGlyphs">VCC1R2A</text>
<text x="2235" y="570" textLength="55" lengthAdjust="spacingAndGlyphs">VCC0R6B</text>
<text x="2239" y="618" textLength="74" lengthAdjust="spacingAndGlyphs">VCC1R8SUS</text>
<text x="2238" y="667" textLength="82" lengthAdjust="spacingAndGlyphs">VCCPCHCORE</text>
<text x="2229" y="716" textLength="52" lengthAdjust="spacingAndGlyphs">VCC1R8A</text>
</g>
<g style="font-size:10px">
<text x="2171" y="185" textLength="44" lengthAdjust="spacingAndGlyphs">BQ24780</text>
<text x="2166" y="233" textLength="52" lengthAdjust="spacingAndGlyphs">TPS51285</text>
<text x="2158" y="289" textLength="98" lengthAdjust="spacingAndGlyphs">NCP81208/NCP81382</text>
<text x="2158" y="337" textLength="48" lengthAdjust="spacingAndGlyphs">NCP81382</text>
<text x="2167" y="386" textLength="45" lengthAdjust="spacingAndGlyphs">NCP81383</text>
<text x="2160" y="435" textLength="56" lengthAdjust="spacingAndGlyphs">TPS62134A</text>
<text x="2170" y="484" textLength="60" lengthAdjust="spacingAndGlyphs">BD91364AM</text>
<text x="2160" y="533" textLength="56" lengthAdjust="spacingAndGlyphs">SN1409027</text>
<text x="2160" y="582" textLength="64" lengthAdjust="spacingAndGlyphs">TPS51206DSQR</text>
<text x="2160" y="630" textLength="72" lengthAdjust="spacingAndGlyphs">BU90004GWZ</text>
<text x="2160" y="679" textLength="56" lengthAdjust="spacingAndGlyphs">TPS62134D</text>
<text x="2160" y="727" textLength="72" lengthAdjust="spacingAndGlyphs">BU90004GWZ</text>
</g>
<g style="font-size:10px" text-anchor="end">
<text x="2303" y="185">71/72</text>
<text x="2303" y="233">74</text>
<text x="2303" y="289">75/76</text>
<text x="2303" y="337">77</text>
<text x="2303" y="386">78</text>
<text x="2303" y="435">80</text>
<text x="2303" y="484">81</text>
<text x="2303" y="533">83</text>
<text x="2303" y="582">84</text>
<text x="2303" y="630">85</text>
<text x="2303" y="679">86</text>
<text x="2303" y="727">97</text>
</g>
<g style="font-size:7px;font-weight:bold" text-anchor="middle">
<text x="2196" y="202">VINT20</text><text x="2273" y="202" textLength="68" lengthAdjust="spacingAndGlyphs">CHARGER_OUT12</text>
<text x="2196" y="254">VINT20</text><text x="2273" y="245">VCC3M</text><text x="2273" y="259">VCC3M</text>
<text x="2196" y="306">VINT20</text><text x="2273" y="306">VCCCPUCORE</text>
<text x="2196" y="353">VINT20</text><text x="2273" y="353">VCCGFXCORE</text>
<text x="2196" y="404">VINT20</text><text x="2273" y="404">VCCSA</text>
<text x="2196" y="451">VCC3M</text><text x="2273" y="451">VCCCPUIO</text>
<text x="2196" y="499">VCC3M</text><text x="2273" y="499">VCC1R0_SUS</text>
<text x="2196" y="548">VINT20</text><text x="2273" y="548">VCC1R2A</text>
<text x="2196" y="596">VCC1R2A</text><text x="2273" y="596">VCC0R6B</text>
<text x="2196" y="645">VCC3M</text><text x="2273" y="645">VCC1R8_SUS</text>
<text x="2196" y="694">VCC3M</text><text x="2273" y="694">VCCPCHCORE</text>
<text x="2196" y="743">VCC3M</text><text x="2273" y="743">VCC1R8A</text>
</g>

<!-- title block -->
<g fill="none" stroke="#000" stroke-width="1.2">
<path d="M2053 1540H2310V1630M2053 1540V1630M2053 1579H2310M2053 1602H2310M2053 1624H2310M2070 1602V1624M2281 1602V1624M2192 1624V1630"/>
</g>
<text x="2052" y="1536" class="sans up" style="font-size:5px">ULT</text>
<text x="2075" y="1566" style="font-family:'Noto Serif CJK SC','Noto Sans CJK SC',serif;font-size:20px" textLength="82" lengthAdjust="spacingAndGlyphs">緯創資通</text>
<text x="2173" y="1558" class="sans up" style="font-size:16px;font-weight:bold" textLength="125" lengthAdjust="spacingAndGlyphs">Wistron Corporation</text>
<text x="2173" y="1566" class="sans up" style="font-size:5px" textLength="110" lengthAdjust="spacingAndGlyphs">2F, 88, Sec.1, Hsin Tai Wu Rd., Hsichih,</text>
<text x="2173" y="1574" class="sans up" style="font-size:5px" textLength="92" lengthAdjust="spacingAndGlyphs">Taipei Hsien 221, Taiwan, R.O.C.</text>
<text x="2055" y="1587" class="sans up" style="font-size:4px">Title</text>
<text x="2067" y="1595" class="sans" style="font-size:16px" textLength="108" lengthAdjust="spacingAndGlyphs">BLOCK DIAGRAM</text>
<text x="2055" y="1607" class="sans up" style="font-size:4px">Size</text>
<text x="2058" y="1615" class="sans up" style="font-size:5px">A3</text>
<text x="2081" y="1607" class="sans up" style="font-size:5px">Document Number</text>
<text x="2187" y="1621" class="sans up" text-anchor="middle" style="font-size:13px;font-weight:bold" textLength="54" lengthAdjust="spacingAndGlyphs">Raven-2</text>
<text x="2283" y="1607" class="sans up" style="font-size:4px">Rev</text>
<text x="2288" y="1619" class="sans up" style="font-size:8px">SA</text>
<text x="2054" y="1629" class="sans up" style="font-size:5px">Date:</text>
<text x="2075" y="1629" class="sans up" style="font-size:5px">Thursday, May 05, 2016</text>
<text x="2195" y="1629" class="sans up" style="font-size:5px">Sheet</text>
<text x="2223" y="1629" class="sans up" style="font-size:5px">1</text>
<text x="2248" y="1629" class="sans up" style="font-size:5px">of</text>
<text x="2284" y="1629" class="sans up" style="font-size:5px">22</text>
</svg>
</body></html>
